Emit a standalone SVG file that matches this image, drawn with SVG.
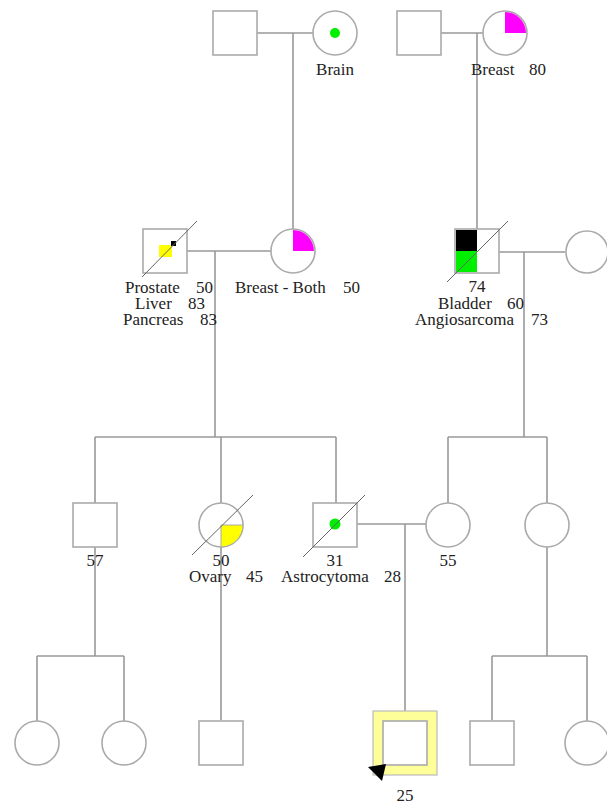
<svg xmlns="http://www.w3.org/2000/svg" width="607" height="809" viewBox="0 0 607 809">
<style>
.bg{fill:#fff}
.ln{stroke:#999;stroke-width:1.6;fill:none}
.sym{fill:#fff;stroke:#aaa;stroke-width:1.6}
.dg{stroke:#666;stroke-width:1}
.t{font-family:"Liberation Serif","Times New Roman",serif;font-size:17px;fill:#222}
.m{text-anchor:middle}
.mag{fill:#ff00ff}
.grn{fill:#00ee00}
.yel{fill:#ffff00}
</style>
<rect class="bg" x="0" y="0" width="607" height="809"/>
<g id="connectors">
<path class="ln" d="M257,33 H313 M293,33 V229"/>
<path class="ln" d="M441,33 H483 M477,33 V229"/>
<path class="ln" d="M187,251 H271 M215,251 V437 M95,437 H336 M95,437 V503 M221,437 V503 M336,437 V503"/>
<path class="ln" d="M499,252 H565 M524,252 V437 M448,437 H547 M448,437 V503 M547,437 V503"/>
<path class="ln" d="M357,524 H426 M405,524 V711"/>
<path class="ln" d="M95,547 V656 M37,656 H124 M37,656 V721 M124,656 V721"/>
<path class="ln" d="M221,547 V720"/>
<path class="ln" d="M547,547 V656 M492,656 H587 M492,656 V720 M587,656 V721"/>
</g>
<g id="g1-father-left">
<rect class="sym" x="213" y="11" width="44" height="44"/>
</g>
<g id="g1-mother-left">
<circle class="sym" cx="335" cy="33" r="22"/>
<circle class="grn" cx="335" cy="33" r="5"/>
<text class="t m" x="335" y="75">Brain</text>
</g>
<g id="g1-father-right">
<rect class="sym" x="397" y="11" width="44" height="44"/>
</g>
<g id="g1-mother-right">
<circle class="sym" cx="505" cy="33" r="22"/>
<path class="mag" d="M505,33 V12 A21,21 0 0 1 526,33 Z"/>
<text class="t" x="471" y="75">Breast<tspan x="529">80</tspan></text>
</g>
<g id="g2-father-left">
<rect class="sym" x="143" y="229" width="44" height="44"/>
<rect class="yel" x="159" y="245" width="13" height="12"/>
<rect fill="#000" x="171" y="241" width="5" height="5"/>
<line class="dg" x1="142" y1="277" x2="197" y2="221"/>
<text class="t" x="125" y="293">Prostate<tspan x="196">50</tspan></text>
<text class="t" x="135" y="309">Liver<tspan x="188">83</tspan></text>
<text class="t" x="123" y="325">Pancreas<tspan x="200">83</tspan></text>
</g>
<g id="g2-mother-left">
<circle class="sym" cx="293" cy="251" r="22"/>
<path class="mag" d="M293,251 V230 A21,21 0 0 1 314,251 Z"/>
<text class="t" x="235" y="293">Breast - Both<tspan x="343">50</tspan></text>
</g>
<g id="g2-father-right">
<rect class="sym" x="455" y="229" width="44" height="44"/>
<rect fill="#000" x="456" y="230" width="21" height="21"/>
<rect class="grn" x="456" y="251" width="21" height="21"/>
<line class="dg" x1="447" y1="282" x2="508" y2="221"/>
<text class="t m" x="477" y="292">74</text>
<text class="t" x="438" y="309">Bladder<tspan x="507">60</tspan></text>
<text class="t" x="415" y="325">Angiosarcoma<tspan x="531">73</tspan></text>
</g>
<g id="g2-mother-right">
<circle class="sym" cx="587" cy="252" r="21"/>
</g>
<g id="g3-son-57">
<rect class="sym" x="73" y="503" width="44" height="44"/>
<text class="t m" x="95" y="566">57</text>
</g>
<g id="g3-daughter-ovary">
<circle class="sym" cx="221" cy="525" r="22"/>
<path class="yel" d="M221,525 H243 A22,22 0 0 1 221,547 Z" stroke="#aaa" stroke-width="1"/>
<line class="dg" x1="192" y1="555" x2="253" y2="495"/>
<text class="t m" x="221" y="566">50</text>
<text class="t" x="189" y="582">Ovary<tspan x="246">45</tspan></text>
</g>
<g id="g3-son-astrocytoma">
<rect class="sym" x="313" y="503" width="44" height="44"/>
<circle class="grn" cx="335" cy="524" r="5.5"/>
<line class="dg" x1="303" y1="557" x2="365" y2="495"/>
<text class="t m" x="335" y="566">31</text>
<text class="t" x="281" y="582">Astrocytoma<tspan x="384">28</tspan></text>
</g>
<g id="g3-wife-55">
<circle class="sym" cx="448" cy="525" r="22"/>
<text class="t m" x="448" y="566">55</text>
</g>
<g id="g3-daughter-right">
<circle class="sym" cx="547" cy="525" r="22"/>
</g>
<g id="g4-daughter-1">
<circle class="sym" cx="37" cy="743" r="22"/>
</g>
<g id="g4-daughter-2">
<circle class="sym" cx="124" cy="743" r="22"/>
</g>
<g id="g4-son-ovary">
<rect class="sym" x="199" y="721" width="44" height="44"/>
</g>
<g id="g4-proband">
<rect x="373" y="711" width="64" height="64" fill="#ffff99" stroke="#bbb" stroke-width="1.2"/>
<rect class="sym" x="383" y="721" width="44" height="44"/>
<polygon fill="#000" points="386,764 368,767 382,781"/>
<text class="t m" x="405" y="801">25</text>
</g>
<g id="g4-son-right">
<rect class="sym" x="470" y="721" width="44" height="44"/>
</g>
<g id="g4-daughter-right">
<circle class="sym" cx="587" cy="743" r="22"/>
</g>
</svg>
